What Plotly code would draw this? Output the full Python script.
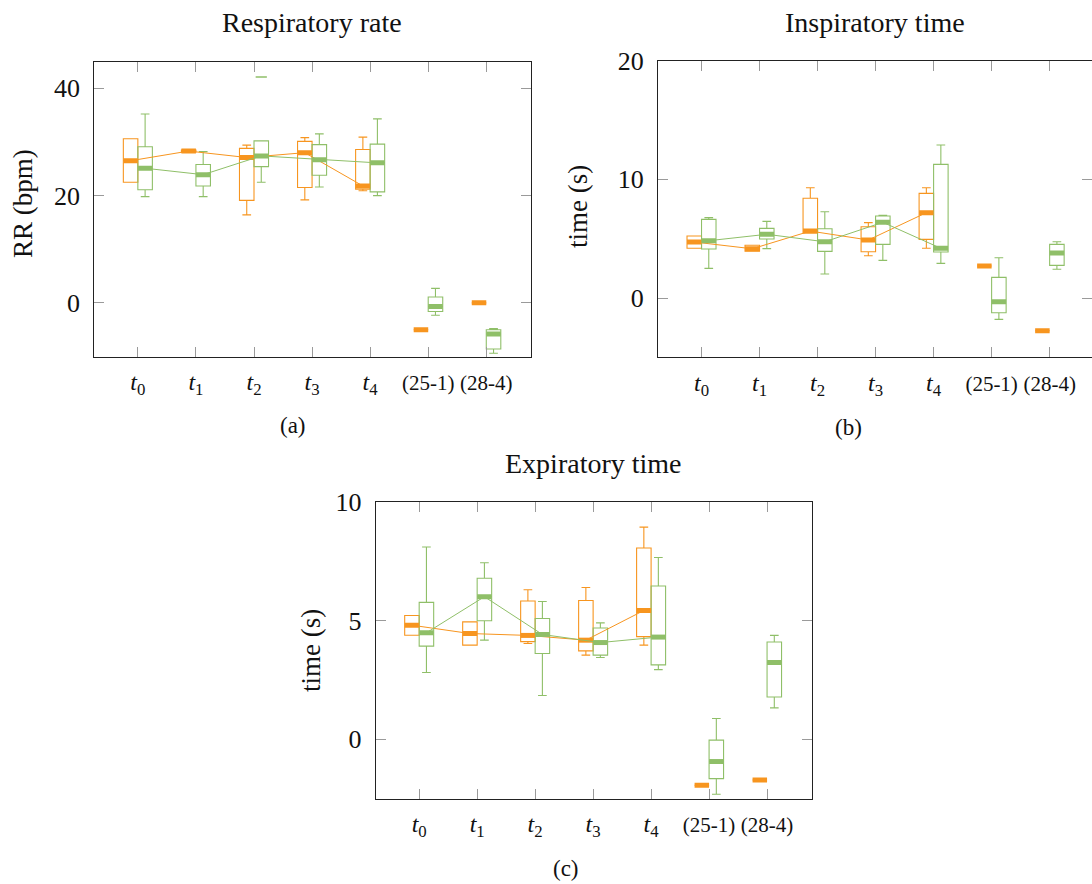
import plotly.graph_objects as go

W, H = 1092, 884

# category labels shared by the three panels
categories = ["t0", "t1", "t2", "t3", "t4", "(25-1)", "(28-4)"]
tick_text = [
    "<i>t</i><sub>0</sub>", "<i>t</i><sub>1</sub>", "<i>t</i><sub>2</sub>",
    "<i>t</i><sub>3</sub>", "<i>t</i><sub>4</sub>",
    '<span style="font-size:21px">(25-1)</span>',
    '<span style="font-size:21px">(28-4)</span>',
]

# ---- Respiratory rate (bpm) ----
rr_orange_lo = [22.5, 28.1, 16.4, 19.2, 20.9, -5.0, 0.0]
rr_orange_q1 = [22.5, 28.1, 19.1, 21.5, 21.2, -5.0, 0.0]
rr_orange_med = [26.5, 28.3, 27.1, 28.0, 21.8, -5.0, 0.0]
rr_orange_q3 = [30.6, 28.5, 28.8, 30.1, 28.6, -5.0, 0.0]
rr_orange_hi = [30.6, 28.5, 29.4, 30.8, 30.9, -5.0, 0.0]

rr_green_lo = [19.8, 19.8, 22.5, 21.6, 20.0, -2.3, -9.4]
rr_green_q1 = [21.1, 21.8, 25.4, 23.8, 20.7, -1.6, -8.6]
rr_green_med = [25.1, 23.9, 27.4, 26.7, 26.1, -0.7, -5.8]
rr_green_q3 = [29.1, 25.8, 30.2, 29.5, 29.6, 1.1, -5.0]
rr_green_hi = [35.2, 28.2, 30.2, 31.5, 34.3, 2.7, -4.8]
rr_green_outlier_cat = [2]
rr_green_outlier_val = [42.1]

# ---- Inspiratory time (s) ----
ti_orange_lo = [4.19, 3.95, 5.48, 3.56, 4.19, 2.70, -2.75]
ti_orange_q1 = [4.19, 3.95, 5.48, 3.90, 4.94, 2.70, -2.75]
ti_orange_med = [4.72, 4.15, 5.64, 4.89, 7.19, 2.70, -2.75]
ti_orange_q3 = [5.22, 4.45, 8.40, 6.01, 8.82, 2.70, -2.75]
ti_orange_hi = [5.22, 4.45, 9.29, 6.35, 9.29, 2.70, -2.75]

ti_green_lo = [2.50, 4.16, 2.02, 3.17, 2.92, -1.80, 2.42]
ti_green_q1 = [4.13, 4.97, 3.93, 4.52, 3.88, -1.24, 2.75]
ti_green_med = [4.83, 5.37, 4.74, 6.38, 4.19, -0.31, 3.79]
ti_green_q3 = [6.63, 5.87, 5.84, 6.91, 11.26, 1.74, 4.52]
ti_green_hi = [6.77, 6.46, 7.27, 6.96, 12.89, 3.40, 4.74]

# ---- Expiratory time (s) ----
te_orange_lo = [4.38, 3.96, 4.03, 3.54, 3.96, -1.94, -1.72]
te_orange_q1 = [4.38, 3.96, 4.11, 3.72, 4.32, -1.94, -1.72]
te_orange_med = [4.80, 4.45, 4.37, 4.17, 5.42, -1.94, -1.72]
te_orange_q3 = [5.21, 4.94, 5.82, 5.84, 8.05, -1.94, -1.72]
te_orange_hi = [5.21, 4.94, 6.29, 6.39, 8.93, -1.94, -1.72]

te_green_lo = [2.81, 4.17, 1.84, 3.44, 2.93, -2.32, 1.32]
te_green_q1 = [3.92, 4.99, 3.61, 3.54, 3.13, -1.66, 1.78]
te_green_med = [4.48, 6.00, 4.41, 4.07, 4.30, -0.94, 3.23]
te_green_q3 = [5.76, 6.78, 5.08, 4.68, 6.45, -0.04, 4.09]
te_green_hi = [8.09, 7.43, 5.80, 4.90, 7.65, 0.87, 4.37]

ORANGE = "#F7951F"
GREEN = "#8FBF68"
FONT = "Liberation Serif"
BOX_W = 0.25
N_LINKED = 5  # medians of t0..t4 are joined by a line


def px_x(p):
    return p / W


def px_y(p):
    return 1 - p / H


fig = go.Figure()


def add_series(ax, lo, q1, med, q3, hi, color, offset):
    xa, ya = ("x" if ax == 1 else f"x{ax}"), ("y" if ax == 1 else f"y{ax}")
    pos = [i + offset for i in range(len(categories))]
    # line joining the medians
    fig.add_trace(go.Scatter(
        x=pos[:N_LINKED], y=med[:N_LINKED], mode="lines",
        line=dict(color=color, width=1), xaxis=xa, yaxis=ya,
        showlegend=False, hoverinfo="skip"))
    fig.add_trace(go.Box(
        x=pos, q1=q1, median=med, q3=q3, lowerfence=lo, upperfence=hi,
        width=BOX_W, whiskerwidth=0.6, boxpoints=False,
        line=dict(color=color, width=1.1), fillcolor="rgba(0,0,0,0)",
        xaxis=xa, yaxis=ya, showlegend=False))
    # thick median bars
    mx, my = [], []
    for p, m in zip(pos, med):
        mx += [p - BOX_W / 2, p + BOX_W / 2, None]
        my += [m, m, None]
    fig.add_trace(go.Scatter(
        x=mx, y=my, mode="lines", line=dict(color=color, width=5),
        xaxis=xa, yaxis=ya, showlegend=False, hoverinfo="skip"))


add_series(1, rr_orange_lo, rr_orange_q1, rr_orange_med, rr_orange_q3, rr_orange_hi, ORANGE, -0.125)
add_series(1, rr_green_lo, rr_green_q1, rr_green_med, rr_green_q3, rr_green_hi, GREEN, 0.125)
fig.add_trace(go.Scatter(
    x=[c + 0.125 for c in rr_green_outlier_cat], y=rr_green_outlier_val, mode="markers",
    marker=dict(symbol="line-ew", size=8, line=dict(color=GREEN, width=1.5)),
    xaxis="x", yaxis="y", showlegend=False))

add_series(2, ti_orange_lo, ti_orange_q1, ti_orange_med, ti_orange_q3, ti_orange_hi, ORANGE, -0.125)
add_series(2, ti_green_lo, ti_green_q1, ti_green_med, ti_green_q3, ti_green_hi, GREEN, 0.125)

add_series(3, te_orange_lo, te_orange_q1, te_orange_med, te_orange_q3, te_orange_hi, ORANGE, -0.125)
add_series(3, te_green_lo, te_green_q1, te_green_med, te_green_q3, te_green_hi, GREEN, 0.125)


def xaxis_cfg(left_px, right_px, xmax, anchor):
    return dict(
        domain=[px_x(left_px), min(1.0, px_x(right_px))], range=[-0.75, xmax],
        tickvals=list(range(len(categories))), ticktext=tick_text,
        ticks="inside", ticklen=10, tickcolor="#9a9a9a", tickwidth=1,
        mirror="allticks", showline=True, linecolor="#222222", linewidth=1,
        showgrid=False, zeroline=False, anchor=anchor, automargin=False,
        tickfont=dict(family=FONT, size=24, color="#111111"),
        ticklabelstandoff=4)


def yaxis_cfg(top_px, bottom_px, rng, tickvals, anchor):
    return dict(
        domain=[px_y(bottom_px), px_y(top_px)], range=rng, tickvals=tickvals,
        ticks="inside", ticklen=10, tickcolor="#9a9a9a", tickwidth=1,
        mirror="allticks", showline=True, linecolor="#222222", linewidth=1,
        showgrid=False, zeroline=False, anchor=anchor, automargin=False,
        tickfont=dict(family=FONT, size=26, color="#111111"),
        ticklabelstandoff=8)


fig.update_layout(
    width=W, height=H,
    margin=dict(l=0, r=0, t=0, b=0, pad=0, autoexpand=False),
    paper_bgcolor="white", plot_bgcolor="white", boxmode="overlay",
    showlegend=False,
    xaxis=xaxis_cfg(94.3, 531, 6.77, "y"),
    yaxis=yaxis_cfg(61.5, 356.5, [-10, 45], [0, 20, 40], "x"),
    xaxis2=xaxis_cfg(658, 1094.4, 6.73, "y2"),
    yaxis2=yaxis_cfg(60.6, 357.4, [-5, 20], [0, 10, 20], "x2"),
    xaxis3=xaxis_cfg(375.7, 811.7, 6.77, "y3"),
    yaxis3=yaxis_cfg(501.7, 798.6, [-2.5, 10], [0, 5, 10], "x3"),
)


def label(text, x, y, size, angle=0):
    fig.add_annotation(
        text=text, x=px_x(x), y=px_y(y), xref="paper", yref="paper",
        showarrow=False, xanchor="center", yanchor="middle", textangle=angle,
        font=dict(family=FONT, size=size, color="#111111"))


label("Respiratory rate", 312, 22, 28)
label("Inspiratory time", 875, 22, 28)
label("Expiratory time", 593, 463, 28)
label("RR (bpm)", 23, 204, 27, -90)
label("time (s)", 578, 207, 27, -90)
label("time (s)", 311, 651, 27, -90)
label("(a)", 293, 425, 23)
label("(b)", 848, 427, 23)
label("(c)", 566, 868, 23)

fig.write_html("out.html")
